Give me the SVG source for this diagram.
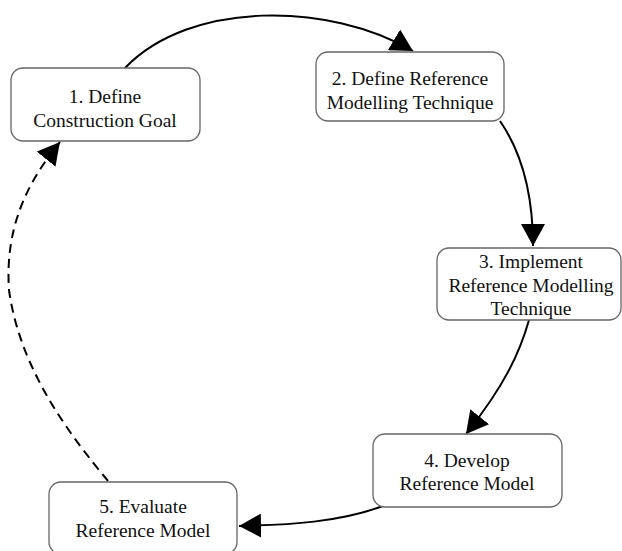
<svg xmlns="http://www.w3.org/2000/svg" width="622" height="551" viewBox="0 0 622 551">
<style>
.box{fill:#fff;stroke:#666;stroke-width:1.3}
.lbl{font-size:19.5px;fill:#111;text-anchor:middle}
.edge{fill:none;stroke:#000;stroke-width:2}
.dash{stroke-dasharray:9 6}
</style>
<defs>
<marker id="ah" markerUnits="userSpaceOnUse" markerWidth="23" markerHeight="24" refX="22" refY="12" orient="auto" viewBox="0 0 23 24">
<path d="M0,0 L22,12 L0,24 z" fill="#000"/>
</marker>
</defs>
<rect width="622" height="551" fill="#fff"/>
<g id="connectors">
<path class="edge" d="M125,68 C190,0 330,2 413,51" marker-end="url(#ah)"/>
<path class="edge" d="M500,121 C520,150 533,190 533,246" marker-end="url(#ah)"/>
<path class="edge" d="M529,320 C520,352 505,385 466,434" marker-end="url(#ah)"/>
<path class="edge" d="M383,506 C340,522 290,525 239,526" marker-end="url(#ah)"/>
<path class="edge dash" d="M108,481 C70,435 20,370 9,290 C5,230 25,185 60,142" marker-end="url(#ah)"/>
</g>
<g font-family="Liberation Serif, DejaVu Serif, serif">
<g id="n1">
<rect class="box" x="11" y="68" width="189" height="73" rx="12"/>
<text class="lbl" x="105" y="103">1. Define</text>
<text class="lbl" x="105" y="127">Construction Goal</text>
</g>
<g id="n2">
<rect class="box" x="316" y="52" width="188" height="69" rx="12"/>
<text class="lbl" x="410" y="85">2. Define Reference</text>
<text class="lbl" x="410" y="109">Modelling Technique</text>
</g>
<g id="n3">
<rect class="box" x="437" y="248" width="184" height="72" rx="12"/>
<text class="lbl" x="531" y="268">3. Implement</text>
<text class="lbl" x="531" y="292">Reference Modelling</text>
<text class="lbl" x="531" y="315">Technique</text>
</g>
<g id="n4">
<rect class="box" x="373" y="434" width="189" height="73" rx="12"/>
<text class="lbl" x="467" y="467">4. Develop</text>
<text class="lbl" x="467" y="490">Reference Model</text>
</g>
<g id="n5">
<rect class="box" x="49" y="482" width="188" height="72" rx="12"/>
<text class="lbl" x="143" y="513">5. Evaluate</text>
<text class="lbl" x="143" y="537">Reference Model</text>
</g>
</g>
</svg>
